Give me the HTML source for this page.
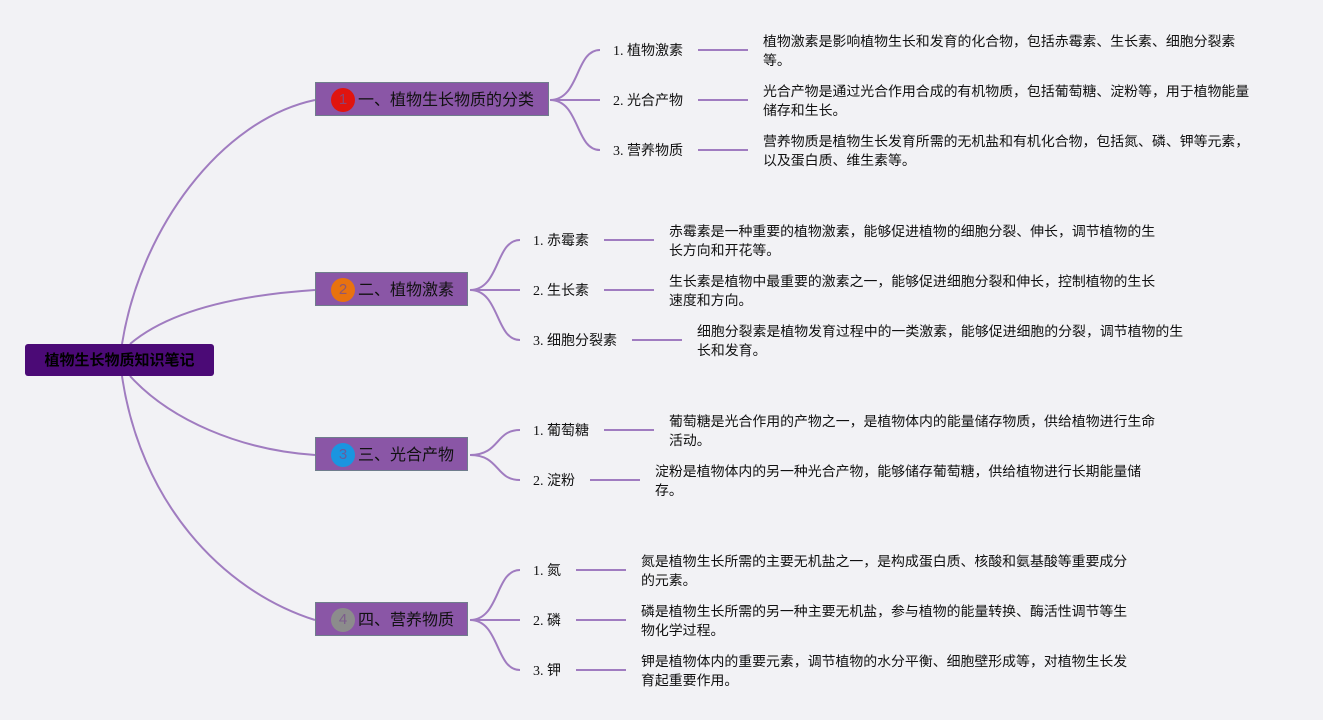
<!DOCTYPE html>
<html><head><meta charset="utf-8"><style>
body{margin:0;width:1323px;height:720px;background:#f2f2f5;position:relative;overflow:hidden;font-family:"Liberation Serif","Noto Sans CJK SC",serif;color:#111}
.a{position:absolute;white-space:nowrap}
.root{left:25px;top:344px;width:189px;height:32px;background:#4b0a76;border-radius:3px;color:#000;font-family:"Liberation Sans","Noto Sans CJK SC",sans-serif;font-weight:bold;font-size:15px;line-height:33px;text-align:center}
.br{height:34px;background:#8a56a6;border:1px solid #6f7d8c;box-sizing:border-box;font-family:"Liberation Sans","Noto Sans CJK SC",sans-serif;font-size:16px;line-height:36px;padding-left:42px;color:#111}
.br i{position:absolute;left:15px;top:5px;width:24px;height:24px;border-radius:50%;font-style:normal;font-size:15px;line-height:24px;text-align:center;color:rgba(120,80,140,.8)}
.lb{font-size:14px;line-height:20px}
.d{font-family:"Liberation Sans","Noto Sans CJK SC",sans-serif;font-size:13.9px;line-height:19px}
</style></head><body>
<svg class="a" style="left:0;top:0" width="1323" height="720" fill="none" stroke="#a07cc0" stroke-width="2">
<path d="M122 344 C140 230 220 120 315 100"/>
<path d="M130 344 C170 310 240 295 315 290"/>
<path d="M130 376 C170 420 240 450 315 455"/>
<path d="M122 376 C140 500 220 590 315 620"/>
<path d="M550 100 C580 100 575 50 600 50"/><path d="M550 100 H600"/><path d="M550 100 C580 100 575 150 600 150"/>
<path d="M470 290 C500 290 495 240 520 240"/><path d="M470 290 H520"/><path d="M470 290 C500 290 495 340 520 340"/>
<path d="M470 455 C500 455 495 430 520 430"/><path d="M470 455 C500 455 495 480 520 480"/>
<path d="M470 620 C500 620 495 570 520 570"/><path d="M470 620 H520"/><path d="M470 620 C500 620 495 670 520 670"/>
<path d="M698 50 H748 M698 100 H748 M698 150 H748"/>
<path d="M604 240 H654 M604 290 H654 M632 340 H682"/>
<path d="M604 430 H654 M590 480 H640"/>
<path d="M576 570 H626 M576 620 H626 M576 670 H626"/>
</svg>
<div class="a root">植物生长物质知识笔记</div>
<div class="a br" style="left:315px;top:82px;width:234px"><i style="background:#e0140f">1</i>一、植物生长物质的分类</div>
<div class="a br" style="left:315px;top:272px;width:153px"><i style="background:#e8720f">2</i>二、植物激素</div>
<div class="a br" style="left:315px;top:437px;width:153px"><i style="background:#1a95e0">3</i>三、光合产物</div>
<div class="a br" style="left:315px;top:602px;width:153px"><i style="background:#8c8c8c">4</i>四、营养物质</div>

<div class="a lb" style="left:613px;top:42px">1. 植物激素</div>
<div class="a lb" style="left:613px;top:92px">2. 光合产物</div>
<div class="a lb" style="left:613px;top:142px">3. 营养物质</div>
<div class="a d" style="left:763px;top:32px">植物激素是影响植物生长和发育的化合物，包括赤霉素、生长素、细胞分裂素<br>等。</div>
<div class="a d" style="left:763px;top:82px">光合产物是通过光合作用合成的有机物质，包括葡萄糖、淀粉等，用于植物能量<br>储存和生长。</div>
<div class="a d" style="left:763px;top:132px">营养物质是植物生长发育所需的无机盐和有机化合物，包括氮、磷、钾等元素，<br>以及蛋白质、维生素等。</div>

<div class="a lb" style="left:533px;top:232px">1. 赤霉素</div>
<div class="a lb" style="left:533px;top:282px">2. 生长素</div>
<div class="a lb" style="left:533px;top:332px">3. 细胞分裂素</div>
<div class="a d" style="left:669px;top:222px">赤霉素是一种重要的植物激素，能够促进植物的细胞分裂、伸长，调节植物的生<br>长方向和开花等。</div>
<div class="a d" style="left:669px;top:272px">生长素是植物中最重要的激素之一，能够促进细胞分裂和伸长，控制植物的生长<br>速度和方向。</div>
<div class="a d" style="left:697px;top:322px">细胞分裂素是植物发育过程中的一类激素，能够促进细胞的分裂，调节植物的生<br>长和发育。</div>

<div class="a lb" style="left:533px;top:422px">1. 葡萄糖</div>
<div class="a lb" style="left:533px;top:472px">2. 淀粉</div>
<div class="a d" style="left:669px;top:412px">葡萄糖是光合作用的产物之一，是植物体内的能量储存物质，供给植物进行生命<br>活动。</div>
<div class="a d" style="left:655px;top:462px">淀粉是植物体内的另一种光合产物，能够储存葡萄糖，供给植物进行长期能量储<br>存。</div>

<div class="a lb" style="left:533px;top:562px">1. 氮</div>
<div class="a lb" style="left:533px;top:612px">2. 磷</div>
<div class="a lb" style="left:533px;top:662px">3. 钾</div>
<div class="a d" style="left:641px;top:552px">氮是植物生长所需的主要无机盐之一，是构成蛋白质、核酸和氨基酸等重要成分<br>的元素。</div>
<div class="a d" style="left:641px;top:602px">磷是植物生长所需的另一种主要无机盐，参与植物的能量转换、酶活性调节等生<br>物化学过程。</div>
<div class="a d" style="left:641px;top:652px">钾是植物体内的重要元素，调节植物的水分平衡、细胞壁形成等，对植物生长发<br>育起重要作用。</div>
</body></html>
